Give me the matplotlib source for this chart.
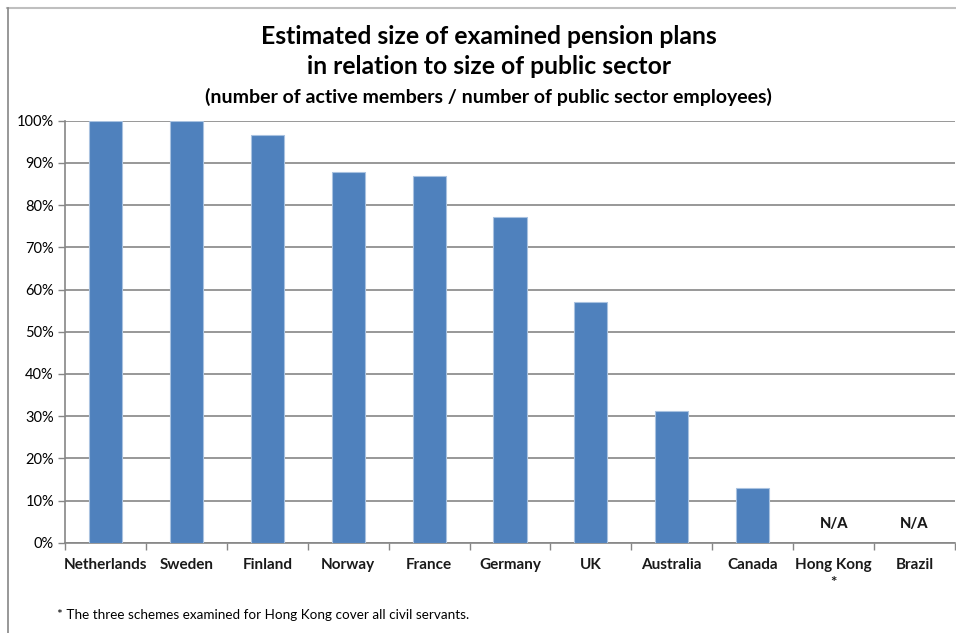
import matplotlib.pyplot as plt
from matplotlib.lines import Line2D
from matplotlib.ticker import PercentFormatter

plt.rcParams['font.family'] = ['Lato', 'DejaVu Sans']

# Share of public sector employees covered by the examined plans (%)
countries = ['Netherlands', 'Sweden', 'Finland', 'Norway', 'France', 'Germany',
             'UK', 'Australia', 'Canada', 'Hong Kong\n*', 'Brazil']
coverage = [100, 100, 96.6, 87.8, 87.0, 77.1, 57.0, 31.2, 12.9, None, None]

grid_color = '#868686'
bar_color = '#4F81BD'

fig = plt.figure(figsize=(9.56, 6.33), dpi=100)
ax = fig.add_axes([65 / 956, 1 - 542.7 / 633, 890 / 956, 422 / 633])

x = range(len(countries))
for i, v in zip(x, coverage):
    if v is None:
        ax.text(i, 4.5, 'N/A', ha='center', va='center', fontsize=10.5,
                fontweight='black', color='#1a1a1a')
    else:
        ax.bar(i, v, width=0.41, color=bar_color, edgecolor='#A9C2E0',
               linewidth=0.8, zorder=3)

ax.set_xlim(-0.5, len(countries) - 0.5)
ax.set_ylim(0, 100)
ax.set_yticks(range(0, 101, 10))
ax.yaxis.set_major_formatter(PercentFormatter(decimals=0))
ax.grid(axis='y', color=grid_color, linewidth=1.2, zorder=0)

# category labels sit between the tick marks at the boundaries
ax.set_xticks([i + 0.5 for i in range(-1, len(countries))])
ax.set_xticklabels([])
ax.set_xticks(list(x), minor=True)
ax.set_xticklabels(countries, minor=True, fontsize=11, fontweight='bold',
                   va='top', linespacing=1.35, color='#1a1a1a')
ax.tick_params(axis='x', which='minor', length=0, pad=11)
ax.tick_params(axis='x', which='major', length=5, color=grid_color, width=1)
ax.tick_params(axis='y', length=5, color=grid_color, width=1, labelsize=10.5,
               pad=3)

for side in ['top', 'right']:
    ax.spines[side].set_visible(False)
for side in ['left', 'bottom']:
    ax.spines[side].set_color(grid_color)
    ax.spines[side].set_linewidth(1.2)

fig.text(0.511, 1 - 37 / 633, 'Estimated size of examined pension plans',
         ha='center', va='center', fontsize=17.8, fontweight='bold')
fig.text(0.511, 1 - 67 / 633, 'in relation to size of public sector',
         ha='center', va='center', fontsize=17.8, fontweight='bold')
fig.text(0.511, 1 - 97 / 633,
         '(number of active members / number of public sector employees)',
         ha='center', va='center', fontsize=14, fontweight='bold')

fig.text(57 / 956, 1 - 615 / 633,
         '* The three schemes examined for Hong Kong cover all civil servants.',
         ha='left', va='center', fontsize=9.7)

# chart frame
fig.add_artist(Line2D([7 / 956, 1], [1 - 7.5 / 633] * 2, color='#BFBFBF',
                      linewidth=1.5, transform=fig.transFigure))
fig.add_artist(Line2D([7.5 / 956] * 2, [0, 1 - 7.5 / 633], color='#868686',
                      linewidth=1.2, transform=fig.transFigure))

fig.savefig('out.png', dpi=100)
